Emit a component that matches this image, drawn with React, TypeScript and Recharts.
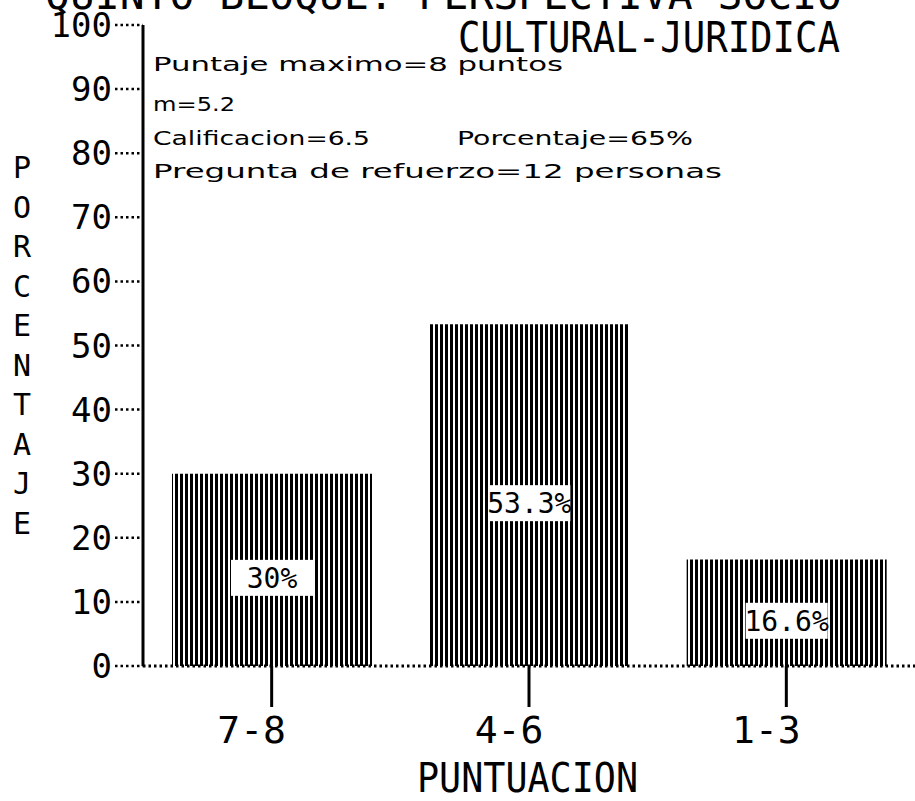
import { Bar, BarChart, LabelList, XAxis, YAxis } from 'recharts';

const categories = ['7-8', '4-6', '1-3'];
const percentages = [30, 53.3, 16.6];
const yTicks = [0, 10, 20, 30, 40, 50, 60, 70, 80, 90, 100];
const titleTop = 'QUINTO BLOQUE: PERSPECTIVA SOCIO';
const titleBottom = 'CULTURAL-JURIDICA';
const yLabel = 'PORCENTAJE';
const xLabel = 'PUNTUACION';
const notes = [
  { text: 'Puntaje maximo=8 puntos', x: 153, y: 71, len: 410 },
  { text: 'm=5.2', x: 153, y: 111, len: 82 },
  { text: 'Calificacion=6.5', x: 153, y: 145, len: 217 },
  { text: 'Porcentaje=65%', x: 457, y: 145, len: 236 },
  { text: 'Pregunta de refuerzo=12 personas', x: 153, y: 178, len: 569 },
];

const data = categories.map((name, i) => ({ name, value: percentages[i] }));

const MONO = '"DejaVu Sans Mono", monospace';

// white box with the percentage, sitting in the middle of the striped bar
const ValueBox = (props: any) => {
  const { x, y, width, height, value } = props;
  const cx = x + width / 2;
  const cy = y + height / 2 + 8;
  return (
    <g>
      <rect x={cx - 41} y={cy - 18} width={82} height={36} fill="#fff" />
      <text x={cx} y={cy + 10} textAnchor="middle" fontFamily={MONO} fontSize={28} fill="#000">
        {`${value}%`}
      </text>
    </g>
  );
};

export default function App() {
  return (
    <div style={{ position: 'absolute', left: 0, top: 0, background: '#fff' }}>
      <BarChart
        width={915}
        height={801}
        data={data}
        margin={{ top: 25, right: 0, bottom: 0, left: 0 }}
      >
        <defs>
          <pattern id="stripes" width="5" height="10" patternUnits="userSpaceOnUse">
            <rect x="0" y="0" width="3" height="10" fill="#000" />
          </pattern>
        </defs>
        <YAxis
          domain={[0, 100]}
          ticks={yTicks}
          width={143}
          interval={0}
          axisLine={{ stroke: '#000', strokeWidth: 3 }}
          tickLine={{ stroke: '#000', strokeWidth: 2.5, strokeDasharray: '2.5 3' }}
          tickSize={28}
          tickMargin={3}
          tick={{ fill: '#000', fontSize: 34, fontFamily: MONO }}
        />
        <XAxis
          dataKey="name"
          height={135}
          axisLine={{ stroke: '#000', strokeWidth: 3, strokeDasharray: '2.5 3' }}
          tickLine={{ stroke: '#000', strokeWidth: 3 }}
          tickSize={41}
          tickMargin={9}
          tick={{ fill: '#000', fontSize: 38, fontFamily: MONO, dx: -20 }}
        />
        <Bar dataKey="value" barSize={200} fill="url(#stripes)" isAnimationActive={false}>
          <LabelList dataKey="value" content={<ValueBox />} />
        </Bar>

        <text x={45} y={9} fontFamily={MONO} fontSize={40} textLength={797} lengthAdjust="spacingAndGlyphs" fill="#000">
          {titleTop}
        </text>
        <text x={458} y={52} fontFamily={MONO} fontSize={42} textLength={382} lengthAdjust="spacingAndGlyphs" fill="#000">
          {titleBottom}
        </text>
        {notes.map((n) => (
          <text
            key={n.text}
            x={n.x}
            y={n.y}
            fontFamily='"DejaVu Sans", sans-serif'
            fontSize={19}
            textLength={n.len}
            lengthAdjust="spacingAndGlyphs"
            fill="#000"
          >
            {n.text}
          </text>
        ))}
        <text x={22} fontFamily={MONO} fontSize={30} textAnchor="middle" fill="#000">
          {yLabel.split('').map((ch, i) => (
            <tspan key={i} x={22} y={178 + i * 39.5}>
              {ch}
            </tspan>
          ))}
        </text>
        <text x={417} y={792} fontFamily={MONO} fontSize={40} textLength={221} lengthAdjust="spacingAndGlyphs" fill="#000">
          {xLabel}
        </text>
      </BarChart>
    </div>
  );
}
